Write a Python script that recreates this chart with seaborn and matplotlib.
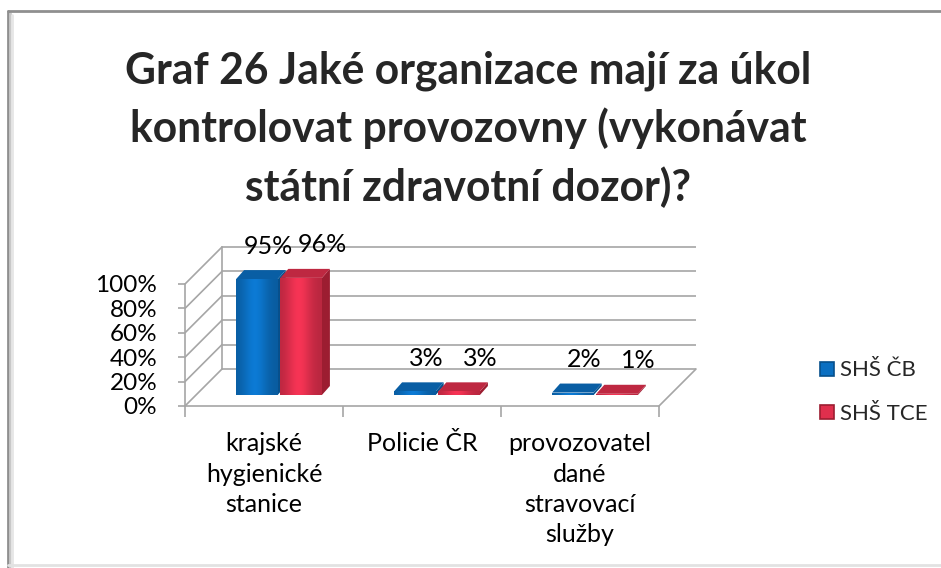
import numpy as np
import pandas as pd
import seaborn as sns
import matplotlib.pyplot as plt
from matplotlib.transforms import ScaledTranslation
from matplotlib.patches import Polygon
from matplotlib.lines import Line2D
from matplotlib.colors import to_rgb

# ---- data -------------------------------------------------------------
categories = ["krajské\nhygienické\nstanice", "Policie ČR",
              "provozovatel\ndané\nstravovací\nslužby"]
series_names = ["SHŠ ČB", "SHŠ TCE"]
shs_cb = [95, 3, 2]
shs_tce = [96, 3, 1]
y_ticks = [0, 20, 40, 60, 80, 100]
y_tick_labels = ["0%", "20%", "40%", "60%", "80%", "100%"]
title = ("Graf 26 Jaké organizace mají za úkol\n"
         "kontrolovat provozovny (vykonávat\n"
         "státní zdravotní dozor)?")

face_colors = {"SHŠ ČB": "#0b6fc1", "SHŠ TCE": "#e02f4d"}
dark_colors = {"SHŠ ČB": "#07508c", "SHŠ TCE": "#9c1d31"}
label_dx = {"SHŠ ČB": 11, "SHŠ TCE": 21}   # perspective offset of value labels

df = pd.DataFrame({
    "category": categories * 2,
    "series": [s for s in series_names for _ in categories],
    "value": shs_cb + shs_tce,
})

# ---- figure geometry (pixels) ----------------------------------------
W, H, DPI = 941, 568, 100
PX_CAT = 158.0      # width of one category slot
PX_PCT = 1.22       # pixels per percentage point
DEPTH = 37.0        # oblique depth of the 3-D box
LEFT, FLOOR, TOP = 185, 406, 238
RIGHT = LEFT + 3 * PX_CAT + DEPTH
GRID = "#a6a6a6"
TEXT_FONT = ["Lato", "DejaVu Sans"]
FS = 17.5

sns.set_theme(style="white")
plt.rcParams["font.family"] = TEXT_FONT

fig = plt.figure(figsize=(W / DPI, H / DPI), dpi=DPI)
ax = fig.add_axes([LEFT / W, 1 - FLOOR / H, (RIGHT - LEFT) / W, (FLOOR - TOP) / H])

DX = DEPTH / PX_CAT
DY = DEPTH / PX_PCT

sns.barplot(data=df, x="category", y="value", hue="series",
            palette=face_colors, saturation=1, width=0.56, gap=0.06,
            legend=False, ax=ax, zorder=3)

xlim = (-0.5, 2.5 + DX)
ylim = (0, (FLOOR - TOP) / PX_PCT)

# ---- 3-D frame: walls, floor and gridlines ----------------------------
for y in y_ticks:
    ax.plot([-0.5 + DX, 2.5 + DX], [y + DY, y + DY], color=GRID, lw=1.2, zorder=1)
    ax.plot([-0.5, -0.5 + DX], [y, y + DY], color=GRID, lw=1.2, zorder=1)
ax.plot([-0.5 + DX, -0.5 + DX], [DY, 100 + DY], color=GRID, lw=1.2, zorder=1)
ax.plot([2.5, 2.5 + DX], [0, DY], color=GRID, lw=1.2, zorder=1, clip_on=False)

for name in ["top", "right"]:
    ax.spines[name].set_visible(False)
ax.spines["left"].set_bounds(0, 100)
ax.spines["bottom"].set_bounds(-0.5, 2.5)
for name in ["left", "bottom"]:
    ax.spines[name].set_color(GRID)
    ax.spines[name].set_linewidth(1.2)

ax.set_yticks(y_ticks, y_tick_labels)
ax.tick_params(axis="y", length=5, color=GRID, width=1.2, labelsize=FS,
               labelcolor="black", pad=15, left=True)
ax.set_xticks([-0.5, 0.5, 1.5, 2.5], ["", "", "", ""])
ax.set_xticks([0, 1, 2], categories, minor=True)
ax.tick_params(axis="x", which="major", length=8, color=GRID, width=1.2, bottom=True)
ax.tick_params(axis="x", which="minor", length=0, labelsize=18, pad=19,
               labelcolor="black")
for lab in ax.get_xticklabels(minor=True):
    lab.set_linespacing(1.38)
    lab.set_verticalalignment("top")
ax.set_xlabel("")
ax.set_ylabel("")
ax.grid(False)
ax.set_facecolor("none")

# ---- bars: push into the box depth, add top/side faces and shading ----
shift = ScaledTranslation(15 / DPI, 11 / DPI, fig.dpi_scale_trans)
bar_tr = ax.transData + shift
bx, by = 8 / PX_CAT, 9 / PX_PCT

for j, (name, cont) in enumerate(zip(series_names, ax.containers)):
    base = np.array(to_rgb(face_colors[name]))
    dark = dark_colors[name]
    z = 3 + j
    for bar in cont:
        bar.set_transform(bar_tr)
        bar.set_zorder(z)
        bar.set_linewidth(0)
        x0, w, h = bar.get_x(), bar.get_width(), bar.get_height()
        top = [(x0, h), (x0 + w, h), (x0 + w + bx, h + by), (x0 + bx, h + by)]
        side = [(x0 + w, 0), (x0 + w + bx, by), (x0 + w + bx, h + by), (x0 + w, h)]
        ax.add_patch(Polygon(side, closed=True, facecolor=dark, lw=0,
                             transform=bar_tr, zorder=z - 0.2))
        ax.add_patch(Polygon(top, closed=True,
                             facecolor=tuple(np.clip(base * 0.85, 0, 1)), lw=0,
                             transform=bar_tr, zorder=z - 0.1))
        # horizontal shading across the front face
        t = np.linspace(0, 1, 64)
        f = 0.82 + 0.28 * np.exp(-((t - 0.45) / 0.3) ** 2)
        grad = np.clip(base[None, :] * f[:, None], 0, 1)[None, :, :]
        im = ax.imshow(grad, extent=(x0, x0 + w, 0, h), aspect="auto",
                       transform=bar_tr, zorder=z + 0.05, interpolation="bilinear")
        im.set_clip_path(bar)
        ax.annotate(f"{h:.0f}%", xy=(x0 + w / 2, h), xycoords=bar_tr,
                    xytext=(label_dx[name], 33), textcoords="offset pixels",
                    ha="center", va="center", fontsize=18, color="black",
                    annotation_clip=False)

ax.set_xlim(*xlim)
ax.set_ylim(*ylim)
ax.set_aspect("auto")

# ---- title -------------------------------------------------------------
fig.text(468 / W, 1 - 129 / H, title, ha="center", va="center", fontsize=30.7,
         fontweight="bold", linespacing=1.49, family=TEXT_FONT)

# ---- legend --------------------------------------------------------------
handles = [Line2D([], [], linestyle="none", marker="s", markersize=10,
                  markerfacecolor=face_colors[n], markeredgecolor=dark_colors[n],
                  markeredgewidth=1.2) for n in series_names]
fig.legend(handles, series_names, loc="center left",
           bbox_to_anchor=(808 / W, 1 - 392 / H), frameon=False,
           fontsize=16, handlelength=0.7, handletextpad=0.25,
           labelspacing=1.05, borderpad=0)

# ---- outer chart border ------------------------------------------------
for k, (c, lw) in enumerate([("#8f8f8f", 2.0), ("#c8c8c8", 2.0), ("#e6e6e6", 2.0)]):
    fig.add_artist(Line2D([(8 + 2 * k) / W] * 2, [0, 1 - (11 + 2 * k) / H],
                          color=c, lw=lw, transform=fig.transFigure))
fig.add_artist(Line2D([8 / W, 1], [1 - 11 / H] * 2, color="#8f8f8f", lw=2.0,
                      transform=fig.transFigure))
fig.add_artist(Line2D([8 / W, 1], [1 - 565 / H] * 2, color="#e2e2e2", lw=2.0,
                      transform=fig.transFigure))

fig.savefig("out.png", dpi=DPI, facecolor="white")
